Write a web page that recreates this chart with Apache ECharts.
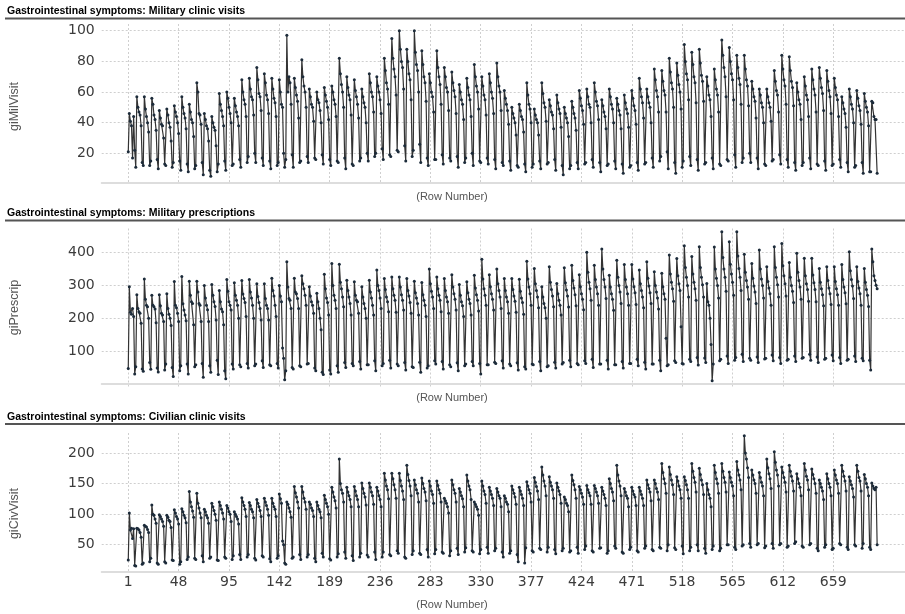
<!DOCTYPE html>
<html><head><meta charset="utf-8">
<script src="https://cdn.jsdelivr.net/npm/echarts@6/dist/echarts.min.js"></script>
<style>html,body{margin:0;padding:0;background:#fff}#c{width:905px;height:614px}</style>
</head><body><div id="c"></div>
<script>
const xTicks = [1,48,95,142,189,236,283,330,377,424,471,518,565,612,659];
const milTicks = [20,40,60,80,100];
const rxTicks = [100,200,300,400];
const civTicks = [50,100,150,200];
const panelTitles = ['Gastrointestinal symptoms: Military clinic visits','Gastrointestinal symptoms: Military prescriptions','Gastrointestinal symptoms: Civilian clinic visits'];
const yNames = ['giMilVisit','giPrescrip','giCivVisit'];
const xName = '(Row Number)';

const giMilVisit = [
21,46,41,38,17,44,22, 11,57,50,47,45,38,14, 12,57,49,44,40,34,12, 15,56,52,45,42,35,16, 10,48,43,39,38,30,13,
12,49,45,40,37,28,11, 14,51,47,44,40,33,15, 9,57,50,46,43,36,13, 8,52,47,42,40,31,10, 12,66,60,46,45,39,14,
6,46,42,38,36,28,9, 5,44,40,37,35,25,8, 13,59,52,48,44,38,15, 9,60,56,50,46,40,12, 13,56,51,47,44,38,16,
11,68,60,55,52,44,14, 18,69,62,57,55,45,20, 14,76,68,59,57,48,17, 12,72,66,58,55,46,15, 10,69,62,56,53,44,12,
14,68,60,52,50,20,11, 16,97,60,70,66,52,19, 11,69,63,58,54,43,14, 15,81,70,64,60,50,18, 14,62,57,52,50,41,17,
16,60,55,53,48,40,19, 13,63,58,54,50,42,16, 12,64,60,55,52,44,15, 14,82,72,65,60,50,17, 10,70,63,58,55,45,13,
12,68,61,57,52,43,15, 17,62,57,53,50,40,20, 15,72,66,60,57,47,18, 20,70,64,60,55,46,23, 16,82,74,66,62,52,19,
18,95,82,75,70,58,22, 21,100,88,80,76,62,25, 15,88,80,72,68,55,18, 22,100,86,78,74,60,26, 14,87,78,70,66,54,17,
12,72,66,60,57,47,16, 16,87,76,70,65,52,19, 13,76,70,63,60,48,17, 15,73,66,61,57,46,18, 11,65,60,55,52,42,14,
17,69,63,58,55,44,20, 12,78,70,64,60,49,15, 14,70,64,58,55,45,17, 13,72,66,60,56,46,16, 10,79,70,64,60,48,14,
12,61,56,52,48,39,15, 9,50,46,43,40,32,12, 11,52,48,44,42,34,13, 8,66,58,52,49,40,11, 13,49,45,42,40,32,15,
10,66,59,53,50,41,13, 14,55,51,47,45,36,16, 9,58,53,49,46,37,12, 6,50,46,43,40,31,10, 12,54,50,46,43,35,14,
10,61,56,51,48,39,13, 14,62,57,52,50,40,16, 11,66,60,54,51,42,14, 8,55,51,47,44,36,12, 13,62,57,52,49,40,15,
10,56,52,48,45,36,13, 7,58,53,49,46,37,11, 12,61,56,51,48,39,14, 9,69,62,57,53,43,13, 14,62,57,53,50,40,17,
11,75,68,61,57,47,15, 18,74,67,61,58,47,21, 10,82,73,66,62,50,14, 7,79,71,65,60,49,11, 15,91,80,72,68,55,18,
12,86,78,70,66,53,16, 9,88,79,71,67,54,13, 14,70,64,58,55,44,17, 10,75,68,62,58,47,13, 12,94,84,76,70,57,16,
15,89,80,72,68,55,19, 11,84,76,69,65,52,14, 17,84,75,68,64,51,20, 14,67,62,57,54,43,17, 10,62,58,53,50,40,13,
12,62,57,53,50,41,15, 16,74,67,61,58,47,19, 13,84,75,68,64,52,16, 11,83,74,67,63,51,14, 9,66,60,55,52,42,12,
14,70,64,58,55,44,17, 10,75,68,62,58,47,13, 12,76,69,63,59,48,15, 9,74,67,61,57,46,12, 13,69,63,58,55,44,16,
11,57,53,49,46,37,14, 8,62,57,52,49,40,11, 12,61,56,51,48,39,14, 7,59,54,50,47,38,8, 8,54,53,44,42,42,7
];

const giPrescrip = [
47,296,218,212,230,205,30, 52,272,230,220,215,185,45, 38,320,258,240,235,200,65, 44,270,240,235,228,186,48, 36,272,238,215,210,190,42,
60,275,230,212,200,178,50, 22,312,240,232,215,190,40, 55,327,244,225,210,192,60, 30,313,270,250,245,180,52, 58,313,280,245,240,190,62,
20,300,262,240,226,190,55, 35,303,270,250,236,195,72, 28,285,250,228,220,180,40, 15,318,282,250,240,225,60, 45,308,270,255,240,200,58,
52,315,274,260,248,205,62, 48,318,280,262,240,200,55, 60,305,266,248,230,195,70, 50,305,260,240,230,195,58, 55,322,285,268,240,205,62,
48,300,268,250,109,78,12, 40,372,295,260,255,230,50, 45,322,280,275,260,230,55, 52,330,305,290,270,240,60, 62,296,268,250,240,215,48,
40,276,250,230,200,165,35, 28,334,290,262,248,210,42, 30,367,300,270,255,230,55, 35,365,310,290,265,235,65, 50,316,285,265,245,210,62,
55,311,270,255,250,215,68, 45,296,265,245,230,200,58, 58,316,280,262,240,210,70, 40,347,300,285,262,230,55, 62,321,288,265,250,220,72,
48,326,290,270,255,218,60, 55,326,295,272,255,225,65, 42,321,285,268,248,215,52, 50,313,278,262,245,210,66, 35,309,272,255,240,205,48,
55,350,305,282,265,230,70, 60,326,290,270,255,220,68, 45,321,285,265,250,215,58, 52,333,295,275,258,225,64, 40,303,270,250,238,205,55,
60,311,278,258,245,210,68, 55,331,292,272,255,222,62, 30,380,320,290,270,240,58, 58,333,296,275,258,225,66, 62,350,305,285,265,230,70,
48,321,285,265,250,215,60, 55,321,288,268,252,218,64, 42,319,282,262,248,212,52, 45,374,320,295,275,240,60, 58,352,305,285,265,232,68,
40,296,265,245,232,200,52, 55,357,310,288,268,235,66, 48,306,275,255,240,210,60, 65,354,308,286,268,234,72, 52,362,315,292,272,238,62,
58,333,296,275,258,226,70, 62,401,340,310,290,255,75, 50,362,318,295,275,240,60, 60,411,350,318,295,260,72, 45,331,295,275,258,224,58,
58,377,325,300,280,245,68, 48,364,318,295,275,240,62, 62,364,320,296,278,242,75, 55,347,305,285,265,232,66, 45,372,322,298,278,245,60,
60,342,300,280,262,228,72, 40,337,296,275,258,139,55, 58,393,335,310,290,252,70, 65,382,330,305,285,174,62, 60,421,355,325,300,265,75,
68,388,335,310,290,255,80, 57,418,355,325,302,265,79, 65,306,250,240,200,120,9, 60,417,350,322,300,262,70, 75,464,385,350,325,282,85,
62,433,365,335,310,270,72, 80,464,390,352,325,285,90, 68,395,340,315,295,258,78, 72,367,322,298,280,245,82, 65,408,350,320,300,262,76,
78,357,312,292,275,240,88, 70,418,355,325,302,265,80, 62,428,360,330,305,268,72, 75,370,325,300,282,248,85, 68,398,340,315,295,258,78,
80,383,330,305,288,252,90, 72,383,332,308,288,250,82, 65,352,310,290,272,238,75, 78,357,315,292,275,242,88, 70,357,312,290,272,240,80,
62,364,318,295,278,244,72, 75,403,345,318,298,260,85, 68,357,312,292,275,240,78, 70,352,310,288,270,236,72, 42,411,372,330,315,301,290
];

const giCivVisit = [
25,102,74,77,60,76,16, 15,77,76,74,70,62,18, 20,82,80,79,75,70,22, 28,115,100,98,92,85,20, 18,99,96,92,88,80,22,
20,98,95,90,88,78,25, 24,107,102,96,92,84,18, 22,109,104,98,94,86,26, 30,137,120,112,105,95,28, 26,134,118,110,102,94,32,
22,108,104,98,94,85,28, 30,118,112,106,100,90,25, 24,120,114,108,102,92,30, 28,114,110,104,100,88,26, 32,104,100,96,92,84,34,
26,127,120,114,108,96,30, 34,119,114,108,104,94,28, 25,124,118,112,106,96,32, 30,126,120,114,108,98,27, 22,126,118,112,108,96,28,
32,133,125,118,56,50,20, 18,120,116,110,104,95,28, 30,145,135,128,120,110,34, 26,145,136,126,120,108,30, 34,120,116,110,106,96,28,
22,120,114,108,104,94,36, 30,131,124,118,112,100,27, 25,144,136,128,122,110,30, 35,190,150,140,134,120,38, 28,144,136,130,124,112,32,
24,145,138,130,124,112,30, 36,151,142,134,128,115,33, 30,151,144,136,130,116,38, 26,144,138,130,124,112,30, 38,167,156,146,140,125,34,
32,167,158,148,140,126,40, 36,167,155,146,138,124,30, 28,180,165,155,146,130,34, 40,156,148,140,134,120,36, 34,159,150,142,136,122,42,
30,154,146,138,132,118,35, 42,154,147,140,134,120,38, 36,126,122,118,112,102,32, 40,156,148,140,134,120,44, 34,142,136,130,125,112,38,
45,164,154,146,140,124,40, 38,120,116,112,108,98,35, 42,154,146,138,132,118,46, 36,144,138,132,126,114,40, 44,142,136,130,126,112,38,
30,130,126,120,116,104,36, 40,146,140,134,128,116,34, 22,144,138,132,126,114,20, 45,153,146,140,134,120,40, 38,160,152,145,138,124,44,
42,177,164,154,146,130,38, 46,161,152,146,140,126,42, 35,151,144,138,132,118,40, 44,128,124,118,114,104,38, 40,164,155,148,140,126,46,
36,145,140,134,128,116,42, 48,147,140,135,130,116,40, 38,147,142,136,130,118,44, 45,144,138,132,126,114,36, 40,158,150,142,136,122,48,
44,180,164,154,146,130,38, 36,142,136,130,126,112,42, 46,144,138,132,128,114,40, 38,144,138,132,126,114,44, 48,156,148,142,136,122,42,
40,156,150,142,136,124,46, 44,183,168,158,150,134,40, 50,177,165,156,148,132,45, 42,161,154,146,140,126,48, 35,161,155,148,140,126,40,
46,183,170,160,152,136,50, 40,175,165,156,148,132,44, 36,150,140,132,126,112,42, 48,180,168,158,150,134,40, 44,183,170,160,152,136,50,
50,169,160,152,146,130,46, 42,186,172,164,156,140,48, 50,228,200,190,176,160,52, 46,172,164,156,150,134,50, 52,168,160,152,146,130,45,
48,190,176,166,158,142,52, 44,202,185,172,164,146,50, 52,177,168,160,152,136,46, 48,180,170,162,154,138,52, 55,166,158,150,144,130,48,
46,183,172,162,156,140,50, 52,174,165,158,150,134,44, 40,156,150,144,138,124,46, 50,166,158,150,144,130,42, 44,172,164,156,150,134,52,
50,180,170,162,154,138,46, 42,161,154,148,142,128,50, 48,180,170,160,154,138,44, 52,165,158,150,144,130,46, 42,151,146,142,140,144,50
];

const seriesData = [giMilVisit, giPrescrip, giCivVisit];
const yTickSets = [milTicks, rxTicks, civTicks];
const yRanges = [[1.1,104.4],[-9.8,473.8],[6.5,232.7]];
const grids = [
  {left:101.7, top:24, width:803.3, height:158.3},
  {left:101.7, top:228.5, width:803.3, height:158.5},
  {left:101.7, top:433, width:803.3, height:138.3}
];
const headerY = [18.5, 220.5, 424];
const titleY = [11.3, 213.5, 417.5];
const xNameY = [197, 398, 605];
const yNameY = [106.5, 307.5, 513.5];

const dash = {type:[2,2], color:'#cfcfcf', width:1};
const chart = echarts.init(document.getElementById('c'), null, {renderer:'canvas'});
const graphic = [];
for (let i = 0; i < 3; i++) {
  graphic.push({type:'line', shape:{x1:5, y1:headerY[i], x2:905, y2:headerY[i]}, style:{stroke:'#555', lineWidth:2}, silent:true});
  graphic.push({type:'text', x:7, y:titleY[i], style:{text:panelTitles[i], fill:'#000', fontSize:10.5, fontWeight:'bold', fontFamily:'"Liberation Sans", Arial', verticalAlign:'middle', align:'left'}});
  graphic.push({type:'text', x:452, y:xNameY[i], style:{text:xName, fill:'#555', fontSize:11, fontFamily:'"Liberation Sans", Arial', verticalAlign:'middle', align:'center'}});
  graphic.push({type:'text', x:15, y:yNameY[i], rotation:Math.PI/2, style:{text:yNames[i], fill:'#555', fontSize:12.5, fontFamily:'"Liberation Sans", Arial', verticalAlign:'middle', align:'center'}});
}

const option = {
  animation:false,
  backgroundColor:'#fff',
  grid: grids,
  xAxis: grids.map((g,i) => ({
    type:'value', gridIndex:i, min:-23.8, max:726,
    axisLine:{show:true, lineStyle:{color:'#dddddd', width:2}},
    axisTick:{show:false, customValues:xTicks},
    axisLabel:{show:i===2, customValues:xTicks, fontSize:14, color:'#3c3c3c', margin:4, fontFamily:'"DejaVu Sans", Verdana'},
    splitLine:{show:true, lineStyle:dash}
  })),
  yAxis: grids.map((g,i) => ({
    type:'value', gridIndex:i, min:yRanges[i][0], max:yRanges[i][1],
    axisLine:{show:false}, axisTick:{show:false, customValues:yTickSets[i]},
    axisLabel:{customValues:yTickSets[i], fontSize:14, color:'#3c3c3c', margin:7, fontFamily:'"DejaVu Sans", Verdana'},
    splitLine:{show:true, lineStyle:dash}
  })),
  series: seriesData.map((arr,i) => ({
    type:'line', xAxisIndex:i, yAxisIndex:i,
    data: arr.map((v,k) => [k+1, v]),
    symbol:'circle', symbolSize:3, showSymbol:true,
    lineStyle:{color:'#333', width:1.2},
    itemStyle:{color:'#1c2b3a'},
    emphasis:{disabled:true}
  })),
  graphic: graphic
};
chart.setOption(option);
</script>
</body></html>
